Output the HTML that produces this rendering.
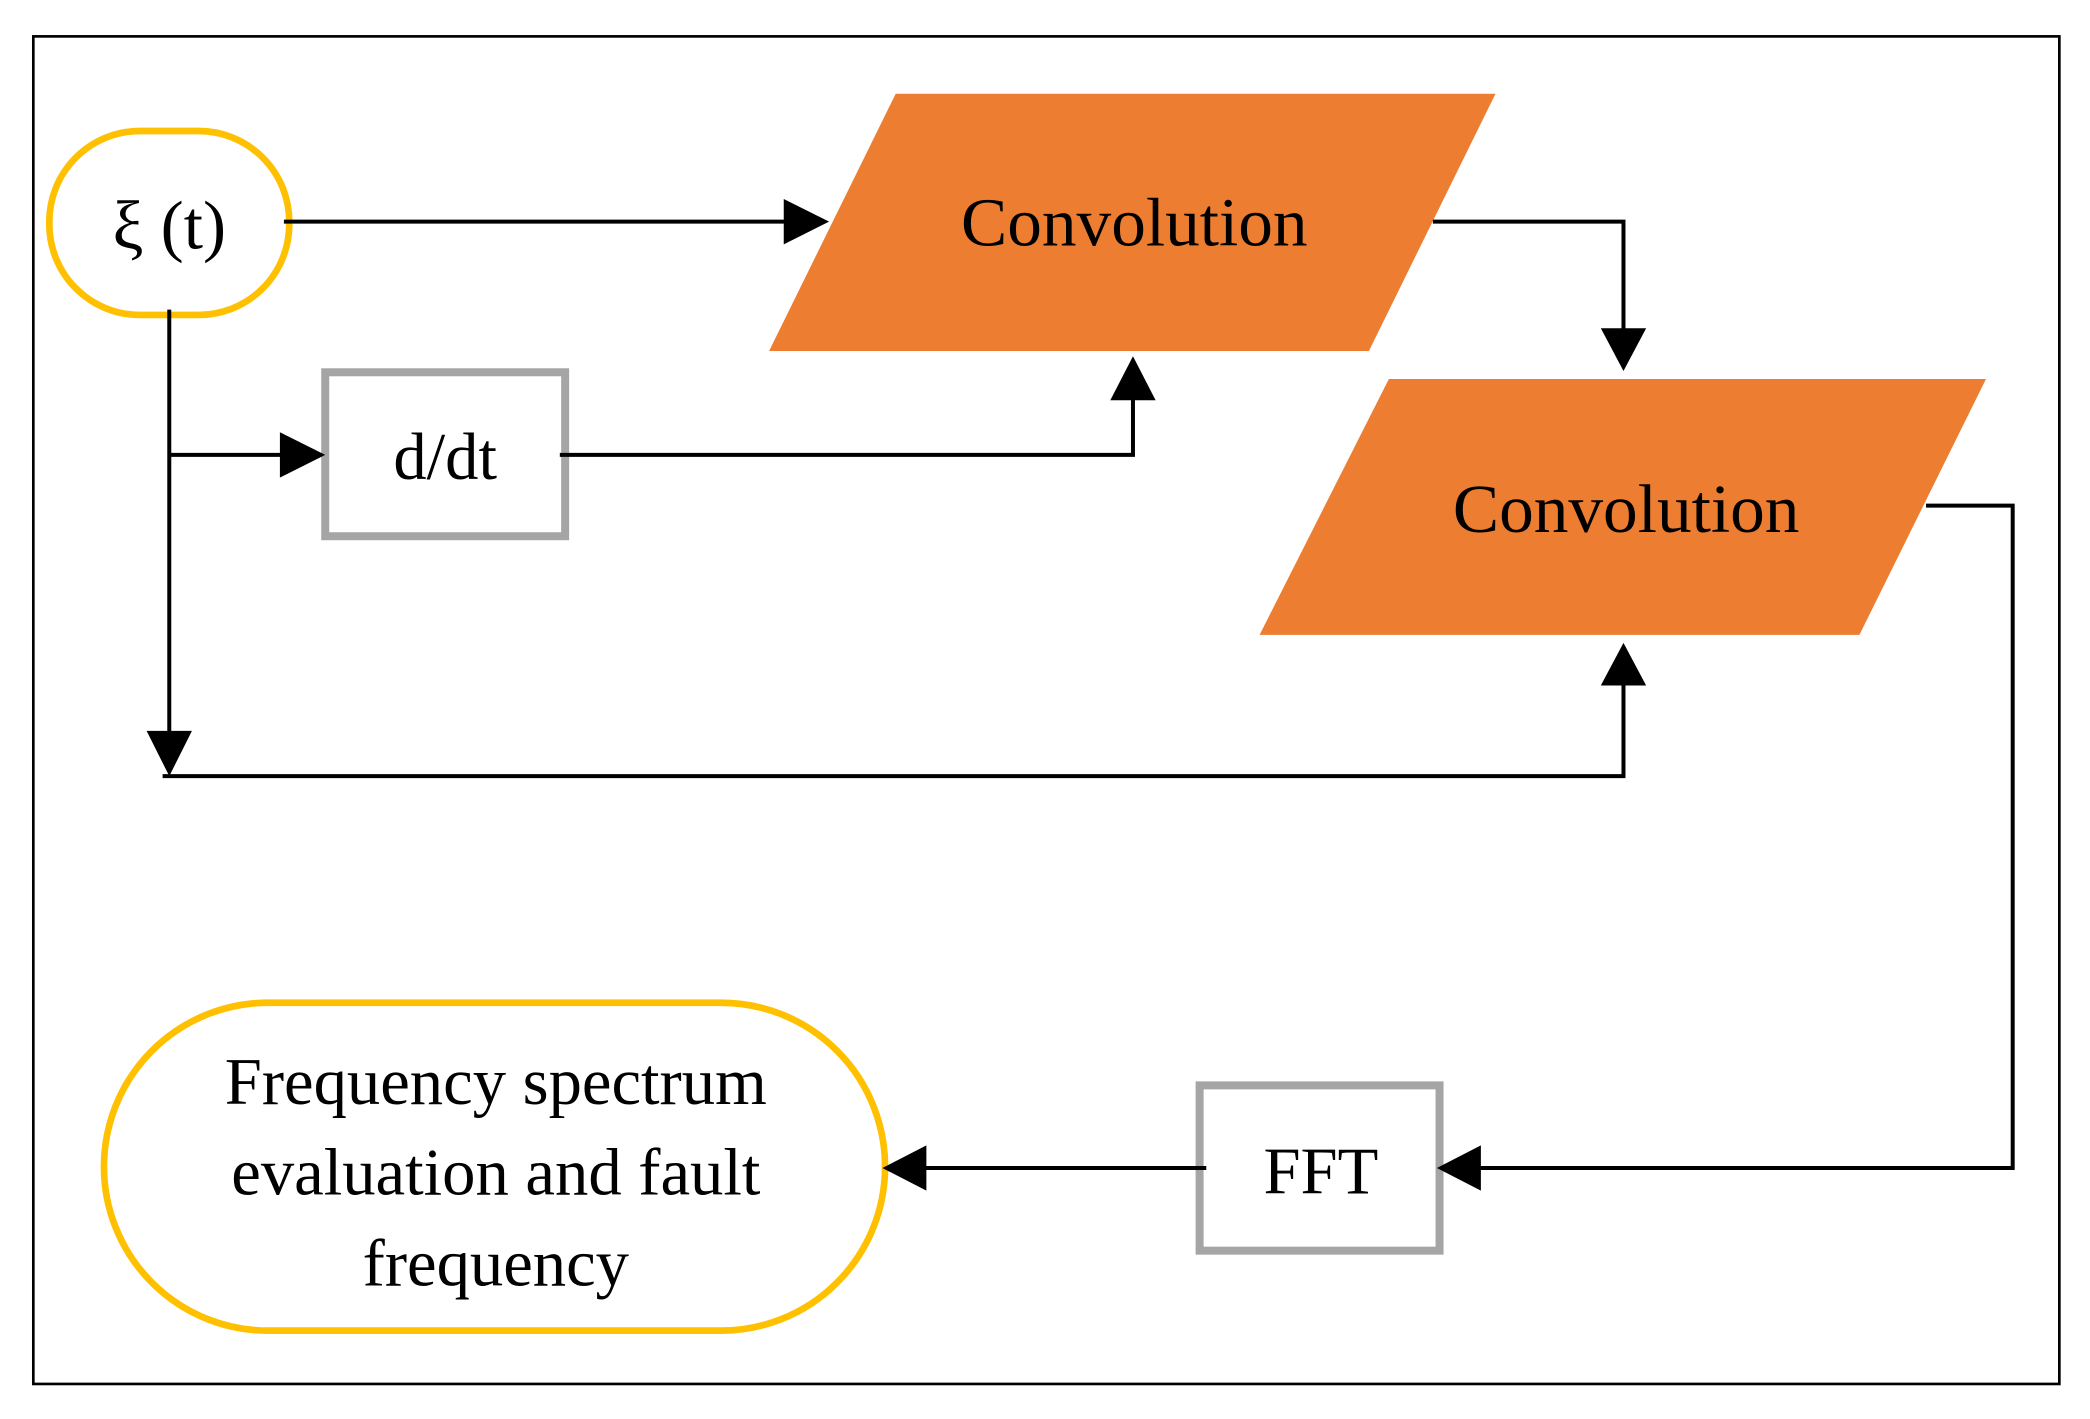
<!DOCTYPE html>
<html><head><meta charset="utf-8"><style>
html,body{margin:0;padding:0;background:#fff;}
svg{display:block;}
text{font-family:"Liberation Serif",serif;fill:#000;}
</style></head><body>
<svg width="2090" height="1419" viewBox="0 0 1568 1064" xmlns="http://www.w3.org/2000/svg">
<rect x="0" y="0" width="1568" height="1064" fill="#fff"/>
<rect x="25" y="27" width="1520" height="1011" fill="none" stroke="#000" stroke-width="2"/>

<!-- shapes -->
<rect x="37" y="98" width="180" height="138" rx="68" ry="68" fill="#fff" stroke="#FFC000" stroke-width="5"/>
<text x="127" y="186" font-size="52" text-anchor="middle">ξ (t)</text>

<polygon points="672,70 1122,70 1027,263 577,263" fill="#ED7D31"/>
<text x="851" y="184" font-size="52" text-anchor="middle">Convolution</text>

<polygon points="1042,284 1490,284 1395,476 945,476" fill="#ED7D31"/>
<text x="1220" y="399" font-size="52" text-anchor="middle">Convolution</text>

<rect x="244" y="279" width="180" height="123" fill="#fff" stroke="#A5A5A5" stroke-width="6"/>
<text x="334" y="359" font-size="50" text-anchor="middle">d/dt</text>

<rect x="900" y="814" width="180" height="124" fill="#fff" stroke="#A5A5A5" stroke-width="6"/>
<text x="991" y="895" font-size="50" text-anchor="middle">FFT</text>

<rect x="78" y="752" width="586" height="246" rx="123" ry="123" fill="#fff" stroke="#FFC000" stroke-width="5"/>
<text x="372" y="828" font-size="50" text-anchor="middle">Frequency spectrum</text>
<text x="372" y="896" font-size="50" text-anchor="middle">evaluation and fault</text>
<text x="372" y="964" font-size="50" text-anchor="middle">frequency</text>

<!-- connectors -->
<g fill="none" stroke="#000" stroke-width="3">
<polyline points="213,166 595,166"/>
<polyline points="127,232 127,555"/>
<polyline points="122,582 1218,582 1218,510"/>
<polyline points="127,341 218,341"/>
<polyline points="420,341 850,341 850,296"/>
<polyline points="1075,166 1218,166 1218,250"/>
<polyline points="1445,379 1510,379 1510,876 1106,876"/>
<polyline points="905,876 690,876"/>
</g>
<g fill="#000">
<polygon points="622,166 588,149 588,183"/>
<polygon points="127,582 110,548 144,548"/>
<polygon points="1218,482 1201,514 1235,514"/>
<polygon points="244,341 210,324 210,358"/>
<polygon points="850,267 833,300 867,300"/>
<polygon points="1218,278 1201,246 1235,246"/>
<polygon points="1078,876 1111,859 1111,893"/>
<polygon points="662,876 695,859 695,893"/>
</g>
</svg>
</body></html>
